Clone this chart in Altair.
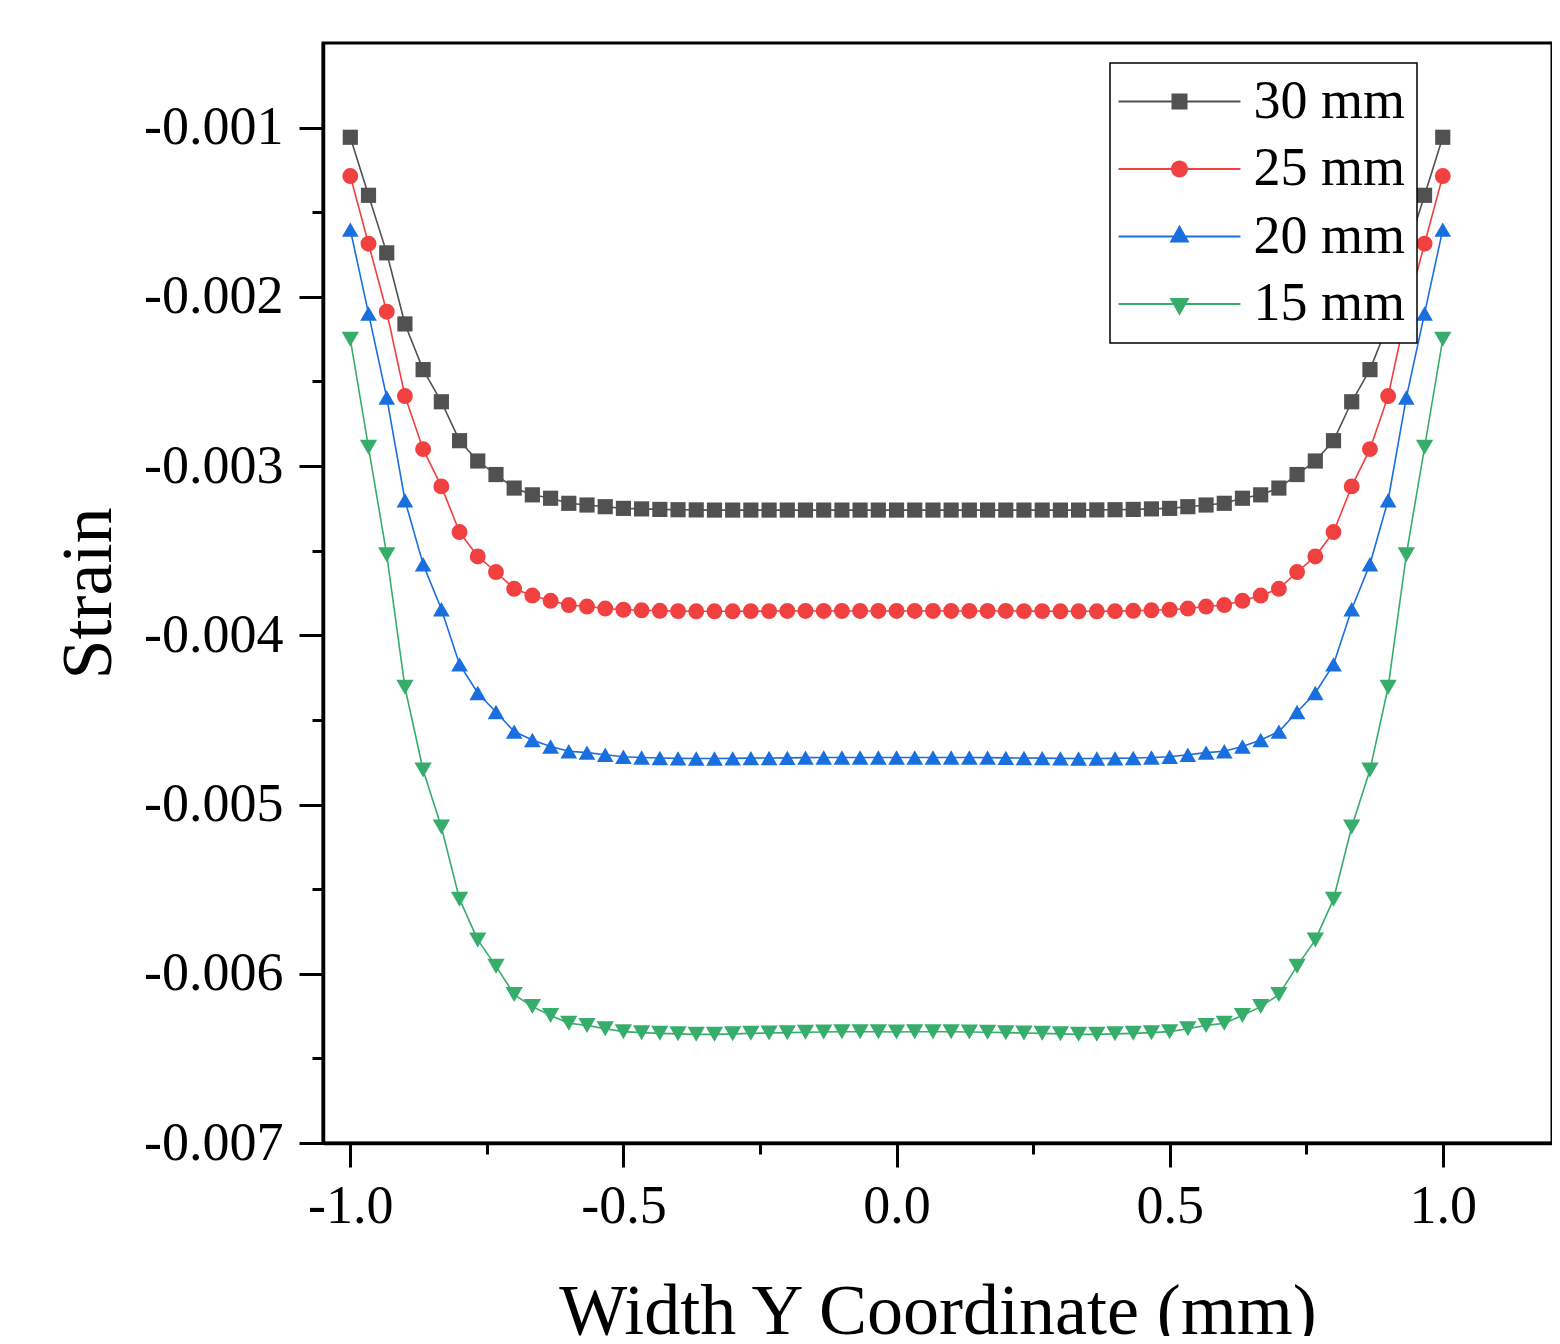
import altair as alt
import pandas as pd

# ---------------- data ----------------
x_vals = [-1.0, -0.9667, -0.9333, -0.9, -0.8667, -0.8333, -0.8, -0.7667, -0.7333, -0.7,
          -0.6667, -0.6333, -0.6, -0.5667, -0.5333, -0.5, -0.4667, -0.4333, -0.4, -0.3667,
          -0.3333, -0.3, -0.2667, -0.2333, -0.2, -0.1667, -0.1333, -0.1, -0.0667, -0.0333,
          0.0,
          0.0333, 0.0667, 0.1, 0.1333, 0.1667, 0.2, 0.2333, 0.2667, 0.3, 0.3333,
          0.3667, 0.4, 0.4333, 0.4667, 0.5, 0.5333, 0.5667, 0.6, 0.6333, 0.6667,
          0.7, 0.7333, 0.7667, 0.8, 0.8333, 0.8667, 0.9, 0.9333, 0.9667, 1.0]

s30 = [-0.001057, -0.001400, -0.001740, -0.002160, -0.002430, -0.002620, -0.002850, -0.002970,
       -0.003050, -0.003130, -0.003170, -0.003190, -0.003220, -0.003230, -0.003240, -0.003250,
       -0.003253, -0.003256, -0.003258, -0.003259, -0.003260, -0.003260, -0.003260, -0.003260,
       -0.003260, -0.003260, -0.003260, -0.003260, -0.003260, -0.003260,
       -0.003260,
       -0.003260, -0.003260, -0.003260, -0.003260, -0.003260, -0.003260, -0.003260, -0.003260,
       -0.003260, -0.003260, -0.003259, -0.003258, -0.003256, -0.003253,
       -0.003250, -0.003240, -0.003230, -0.003220, -0.003190, -0.003170, -0.003130, -0.003050,
       -0.002970, -0.002850, -0.002620, -0.002430, -0.002160, -0.001740, -0.001400, -0.001057]

s25 = [-0.001286, -0.001686, -0.002088, -0.002586, -0.002900, -0.003120, -0.003390, -0.003534,
       -0.003626, -0.003725, -0.003765, -0.003796, -0.003821, -0.003830, -0.003842, -0.003849,
       -0.003852, -0.003855, -0.003857, -0.003858, -0.003858, -0.003858, -0.003857, -0.003857,
       -0.003856, -0.003856, -0.003856, -0.003856, -0.003856, -0.003856,
       -0.003856,
       -0.003856, -0.003856, -0.003856, -0.003856, -0.003856, -0.003856, -0.003857, -0.003857,
       -0.003858, -0.003858, -0.003858, -0.003857, -0.003855, -0.003852,
       -0.003849, -0.003842, -0.003830, -0.003821, -0.003796, -0.003765, -0.003725, -0.003626,
       -0.003534, -0.003390, -0.003120, -0.002900, -0.002586, -0.002088, -0.001686, -0.001286]

s20 = [-0.001603, -0.002098, -0.002595, -0.003202, -0.003580, -0.003846, -0.004172, -0.004341,
       -0.004453, -0.004569, -0.004619, -0.004657, -0.004685, -0.004693, -0.004706, -0.004718,
       -0.004722, -0.004725, -0.004727, -0.004728, -0.004728, -0.004727, -0.004726, -0.004725,
       -0.004724, -0.004723, -0.004722, -0.004722, -0.004722, -0.004722,
       -0.004722,
       -0.004722, -0.004722, -0.004722, -0.004722, -0.004723, -0.004724, -0.004725, -0.004726,
       -0.004727, -0.004728, -0.004728, -0.004727, -0.004725, -0.004722,
       -0.004718, -0.004706, -0.004693, -0.004685, -0.004657, -0.004619, -0.004569, -0.004453,
       -0.004341, -0.004172, -0.003846, -0.003580, -0.003202, -0.002595, -0.002098, -0.001603]

s15 = [-0.002250, -0.002889, -0.003524, -0.004307, -0.004796, -0.005133, -0.005559, -0.005800,
       -0.005955, -0.006123, -0.006194, -0.006246, -0.006292, -0.006305, -0.006325, -0.006342,
       -0.006348, -0.006352, -0.006355, -0.006358, -0.006358, -0.006355, -0.006352, -0.006350,
       -0.006348, -0.006346, -0.006344, -0.006343, -0.006343, -0.006343,
       -0.006344,
       -0.006343, -0.006343, -0.006343, -0.006344, -0.006346, -0.006348, -0.006350, -0.006352,
       -0.006355, -0.006358, -0.006358, -0.006355, -0.006352, -0.006348,
       -0.006342, -0.006325, -0.006305, -0.006292, -0.006246, -0.006194, -0.006123, -0.005955,
       -0.005800, -0.005559, -0.005133, -0.004796, -0.004307, -0.003524, -0.002889, -0.002250]

series_names = ["30 mm", "25 mm", "20 mm", "15 mm"]
series_values = [s30, s25, s20, s15]
colors = ["#515151", "#F14040", "#1A6FDF", "#37AD6B"]
shapes = ["square", "circle", "triangle-up", "triangle-down"]
marker_sizes = [230, 300, 520, 520]

x_major = [-1.0, -0.5, 0.0, 0.5, 1.0]
x_minor = [-0.75, -0.25, 0.25, 0.75]
y_major = [-0.007, -0.006, -0.005, -0.004, -0.003, -0.002, -0.001]
y_minor = [-0.0065, -0.0055, -0.0045, -0.0035, -0.0025, -0.0015]

# legend symbols: a horizontal line with the marker on it (unit = 12 px)
LINE = "M -5.08,-0.08 H 5.08 V 0.08 H -5.08 Z "
legend_paths = [
    LINE + "M -0.667,-0.667 H 0.667 V 0.667 H -0.667 Z",
    LINE + "M 0.708,0 A 0.708,0.708 0 1,1 -0.708,0 A 0.708,0.708 0 1,1 0.708,0 Z",
    LINE + "M 0,-0.975 L 0.833,0.5 L -0.833,0.5 Z",
    LINE + "M -0.833,-0.5 L 0.833,-0.5 L 0,0.975 Z",
]

rows = []
for name, vals in zip(series_names, series_values):
    for xv, yv in zip(x_vals, vals):
        rows.append({"x": xv, "strain": yv, "series": name})
df = pd.DataFrame(rows)

FONT = "Liberation Serif"
xscale = alt.Scale(domain=[-1.05, 1.2], nice=False, zero=False)
yscale = alt.Scale(domain=[-0.007, -0.0005], nice=False, zero=False)
color_scale = alt.Scale(domain=series_names, range=colors)

common_axis = dict(grid=False, tickColor="black", tickWidth=3, domainColor="black",
                   domainWidth=3.5, labelFont=FONT, labelColor="black", labelFontSize=54,
                   titleFont=FONT, titleColor="black", titleFontSize=72,
                   titleFontWeight="normal", labelOverlap=False, labelFlush=False)

x_axis_major = alt.Axis(values=x_major, orient="bottom", title="Width Y Coordinate (mm)",
                        tickSize=24, labelPadding=12, titlePadding=43,
                        labelExpr="(datum.value < 0 ? '-' : '') + format(abs(datum.value), '.1f')",
                        **common_axis)
y_axis_major = alt.Axis(values=y_major, orient="left", title="Strain",
                        tickSize=24, labelPadding=16, titlePadding=18,
                        labelExpr="(datum.value < 0 ? '-' : '') + format(abs(datum.value), '.3f')",
                        **common_axis)
x_axis_minor = alt.Axis(values=x_minor, orient="bottom", title=None, labels=False,
                        domain=False, tickSize=11, tickWidth=3, tickColor="black", grid=False)
y_axis_minor = alt.Axis(values=y_minor, orient="left", title=None, labels=False,
                        domain=False, tickSize=11, tickWidth=3, tickColor="black", grid=False)

base = alt.Chart(df)

lines = base.mark_line(strokeWidth=1.6).encode(
    x=alt.X("x:Q", scale=xscale, axis=x_axis_major),
    y=alt.Y("strain:Q", scale=yscale, axis=y_axis_major),
    color=alt.Color("series:N", scale=color_scale, legend=None),
    order="x:Q",
)

points = base.mark_point(filled=True, opacity=1).encode(
    x=alt.X("x:Q", scale=xscale, axis=x_axis_minor),
    y=alt.Y("strain:Q", scale=yscale, axis=y_axis_minor),
    color=alt.Color("series:N", scale=color_scale, legend=None),
    shape=alt.Shape("series:N", scale=alt.Scale(domain=series_names, range=shapes), legend=None),
    size=alt.Size("series:N", scale=alt.Scale(domain=series_names, range=marker_sizes), legend=None),
)

legend_kw = dict(title=None, orient="none", legendX=787, legendY=20, padding=11.5,
                 strokeColor="black", fillColor="white", labelFont=FONT, labelFontSize=54,
                 labelColor="black", labelLimit=400, symbolSize=576, symbolOffset=31,
                 labelOffset=47, rowPadding=13.5, symbolStrokeWidth=0)

legend_layer = base.mark_point(filled=True, opacity=1).encode(
    x=alt.X("x:Q", scale=xscale, axis=None),
    y=alt.Y("strain:Q", scale=yscale, axis=None),
    color=alt.Color("series:N", scale=color_scale, legend=alt.Legend(**legend_kw)),
    shape=alt.Shape("series:N", scale=alt.Scale(domain=series_names, range=legend_paths),
                    legend=alt.Legend(**legend_kw)),
).transform_filter("false")

chart = (
    alt.layer(lines, points, legend_layer)
    .resolve_scale(color="independent", shape="independent")
    .resolve_axis(x="independent", y="independent")
    .properties(width=1229, height=1100,
                autosize=alt.AutoSizeParams(type="none"),
                padding={"left": 315, "top": 35, "right": 0, "bottom": 193})
    .configure_view(stroke="black", strokeWidth=3)
    .configure_legend(strokeWidth=1.5)
)

chart.save("out.html", embed_options={"renderer": "svg", "actions": False})
